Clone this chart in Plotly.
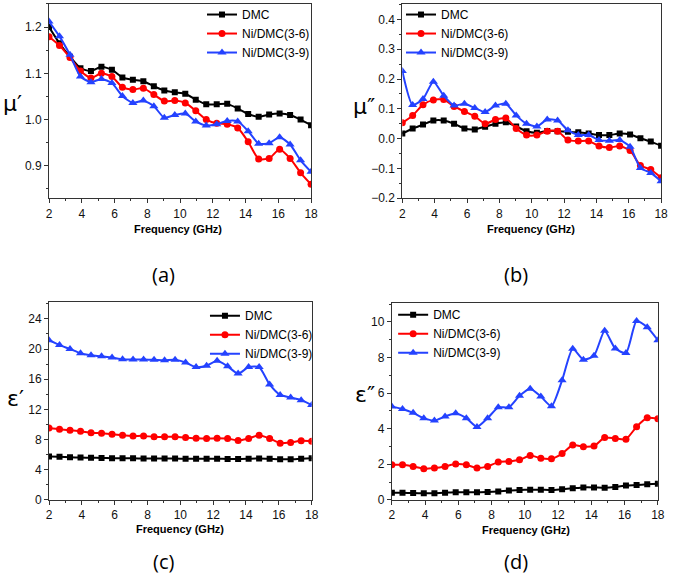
import plotly.graph_objects as go

freq = [2.0, 2.64, 3.28, 3.92, 4.56, 5.2, 5.84, 6.48, 7.12, 7.76, 8.4, 9.04, 9.68,
        10.32, 10.96, 11.6, 12.24, 12.88, 13.52, 14.16, 14.8, 15.44, 16.08, 16.72, 17.36, 18.0]

series_names = ["DMC", "Ni/DMC(3-6)", "Ni/DMC(3-9)"]

# (a) mu'
mu1_dmc = [1.200, 1.165, 1.136, 1.111, 1.105, 1.114, 1.108, 1.091, 1.086, 1.083, 1.072, 1.063, 1.059,
           1.056, 1.043, 1.033, 1.033, 1.034, 1.024, 1.012, 1.006, 1.011, 1.013, 1.010, 1.000, 0.988]
mu1_36 = [1.179, 1.160, 1.134, 1.105, 1.090, 1.100, 1.093, 1.070, 1.065, 1.068, 1.054, 1.040, 1.041,
          1.036, 1.019, 1.000, 0.992, 0.990, 0.982, 0.952, 0.915, 0.916, 0.936, 0.916, 0.885, 0.860]
mu1_39 = [1.212, 1.180, 1.140, 1.093, 1.081, 1.088, 1.079, 1.051, 1.036, 1.041, 1.029, 1.004, 1.010,
          1.013, 0.996, 0.987, 0.990, 0.997, 0.996, 0.975, 0.948, 0.949, 0.962, 0.946, 0.912, 0.887]

# (b) mu''
mu2_dmc = [0.017, 0.034, 0.047, 0.061, 0.061, 0.050, 0.034, 0.031, 0.040, 0.050, 0.055, 0.041, 0.025,
           0.020, 0.026, 0.025, 0.023, 0.021, 0.017, 0.012, 0.012, 0.017, 0.014, 0.001, -0.010, -0.024]
mu2_36 = [0.053, 0.078, 0.114, 0.130, 0.131, 0.108, 0.091, 0.075, 0.050, 0.064, 0.069, 0.034, 0.012,
          0.012, 0.025, 0.025, -0.005, -0.008, -0.008, -0.025, -0.030, -0.025, -0.040, -0.090, -0.104, -0.131]
mu2_39 = [0.227, 0.113, 0.133, 0.191, 0.144, 0.111, 0.117, 0.103, 0.089, 0.111, 0.117, 0.078, 0.050,
          0.041, 0.064, 0.061, 0.028, 0.012, 0.012, -0.005, -0.007, -0.005, -0.027, -0.099, -0.115, -0.143]

# (c) eps'
ep1_dmc = [5.75, 5.70, 5.65, 5.60, 5.58, 5.55, 5.52, 5.50, 5.50, 5.48, 5.48, 5.47, 5.47,
           5.46, 5.45, 5.44, 5.44, 5.43, 5.42, 5.45, 5.48, 5.44, 5.38, 5.38, 5.45, 5.50]
ep1_36 = [9.52, 9.35, 9.22, 9.09, 8.91, 8.83, 8.70, 8.57, 8.48, 8.48, 8.35, 8.35, 8.35,
          8.26, 8.17, 8.13, 8.17, 8.13, 7.87, 8.13, 8.57, 8.13, 7.52, 7.61, 7.83, 7.78]
ep1_39 = [21.17, 20.52, 20.00, 19.43, 19.17, 19.04, 18.87, 18.65, 18.60, 18.60, 18.57, 18.52, 18.57,
          18.22, 17.60, 17.78, 18.43, 17.70, 16.74, 17.60, 17.60, 15.30, 13.91, 13.57, 13.22, 12.57]

# (d) eps''
ep2_dmc = [0.40, 0.40, 0.38, 0.37, 0.37, 0.40, 0.43, 0.43, 0.43, 0.44, 0.47, 0.52, 0.55,
           0.57, 0.57, 0.55, 0.60, 0.65, 0.70, 0.70, 0.68, 0.72, 0.80, 0.83, 0.87, 0.90]
ep2_36 = [1.97, 1.97, 1.88, 1.75, 1.79, 1.88, 2.01, 1.97, 1.79, 1.88, 2.12, 2.16, 2.25,
          2.49, 2.34, 2.31, 2.60, 3.08, 2.99, 3.03, 3.50, 3.45, 3.41, 4.11, 4.61, 4.56]
ep2_39 = [5.24, 5.11, 4.89, 4.59, 4.46, 4.69, 4.87, 4.59, 4.10, 4.59, 5.20, 5.20, 5.85,
          6.25, 5.81, 5.26, 6.72, 8.49, 7.88, 8.10, 9.50, 8.50, 8.25, 10.05, 9.70, 8.97]

panel_labels = ["(a)", "(b)", "(c)", "(d)"]
y_titles = ["μ′", "μ″", "ε′", "ε″"]
x_title = "Frequency (GHz)"
x_ticks = [2, 4, 6, 8, 10, 12, 14, 16, 18]

W, H = 676, 579
colors = ["#000000", "#ff0000", "#2442ff"]
symbols = ["square", "circle", "triangle-up"]
msizes = [6, 7, 8]
FONT = "Arial, Liberation Sans, sans-serif"

def px_x(p):
    return p / W

def px_y(p):
    return 1 - p / H

panels = [
    dict(data=[mu1_dmc, mu1_36, mu1_39], xd=(46.7, 312.7), yd=(2, 199.3), yr=[0.83, 1.25],
         dt=0.1, mdt=0.05, fmt=".1f", leg=(202, -2), lab=(163, 277), xt=(178, 231), yt=(10, 103)),
    dict(data=[mu2_dmc, mu2_36, mu2_39], xd=(405.3, 668), yd=(2, 199.3), yr=[-0.2, 0.452],
         dt=0.1, mdt=0.05, fmt=".1f", leg=(404, -2), lab=(521, 277), xt=(536, 231), yt=(366, 106)),
    dict(data=[ep1_dmc, ep1_36, ep1_39], xd=(46.7, 313.3), yd=(305, 505.7), yr=[0, 26.2],
         dt=4, mdt=2, fmt="d", leg=(205, 304), lab=(163, 568), xt=(180, 535), yt=(13, 403)),
    dict(data=[ep2_dmc, ep2_36, ep2_39], xd=(394.7, 664.7), yd=(306, 505.7), yr=[0, 11.05],
         dt=2, mdt=1, fmt="d", leg=(396, 303), lab=(521, 568), xt=(531, 536), yt=(367, 399)),
]

fig = go.Figure()
annotations = []
layout = {}
for i, p in enumerate(panels):
    k = "" if i == 0 else str(i + 1)
    legname = "legend" + k
    for j in range(3):
        fig.add_trace(go.Scatter(
            x=freq, y=p["data"][j], name=series_names[j], mode="lines+markers",
            line=dict(color=colors[j], width=2, shape="spline", smoothing=0.6),
            marker=dict(symbol=symbols[j], size=msizes[j], color=colors[j]),
            xaxis="x" + k, yaxis="y" + k, legend=legname,
        ))
    axis_common = dict(showgrid=False, zeroline=False, showline=True, mirror=True,
                       linecolor="#333333", linewidth=1, ticks="outside", ticklen=4,
                       tickcolor="#333333", tickfont=dict(family=FONT, size=12, color="#111111"))
    layout["xaxis" + k] = dict(axis_common, domain=[px_x(p["xd"][0]), px_x(p["xd"][1])],
                               range=[2, 18], tickvals=x_ticks, anchor="y" + k,
                               minor=dict(dtick=1, ticklen=2, ticks="outside", tickcolor="#333333"))
    layout["yaxis" + k] = dict(axis_common, domain=[px_y(p["yd"][1]), px_y(p["yd"][0])],
                               range=p["yr"], dtick=p["dt"], tick0=0, tickformat=p["fmt"],
                               anchor="x" + k,
                               minor=dict(dtick=p["mdt"], ticklen=2, ticks="outside", tickcolor="#333333"))
    layout[legname] = dict(x=px_x(p["leg"][0]), y=px_y(p["leg"][1]), xanchor="left", yanchor="top",
                           bgcolor="rgba(0,0,0,0)", font=dict(family=FONT, size=12, color="#000"),
                           tracegroupgap=0, itemwidth=30)
    annotations.append(dict(text=panel_labels[i], x=px_x(p["lab"][0]), y=px_y(p["lab"][1]),
                            xref="paper", yref="paper", showarrow=False,
                            xanchor="center", yanchor="middle",
                            font=dict(family="Open Sans, Liberation Sans", size=20, color="#000")))
    annotations.append(dict(text="<b>" + x_title + "</b>", x=px_x(p["xt"][0]), y=px_y(p["xt"][1]),
                            xref="paper", yref="paper", showarrow=False,
                            xanchor="center", yanchor="middle",
                            font=dict(family=FONT, size=11, color="#000")))
    annotations.append(dict(text=y_titles[i], x=px_x(p["yt"][0]), y=px_y(p["yt"][1]),
                            xref="paper", yref="paper", showarrow=False,
                            xanchor="center", yanchor="middle",
                            font=dict(family="DejaVu Sans", size=22, color="#000")))

fig.update_layout(width=W, height=H, margin=dict(l=0, r=0, t=0, b=0),
                  paper_bgcolor="white", plot_bgcolor="white", showlegend=True,
                  annotations=annotations, **layout)
fig.write_html("out.html")
